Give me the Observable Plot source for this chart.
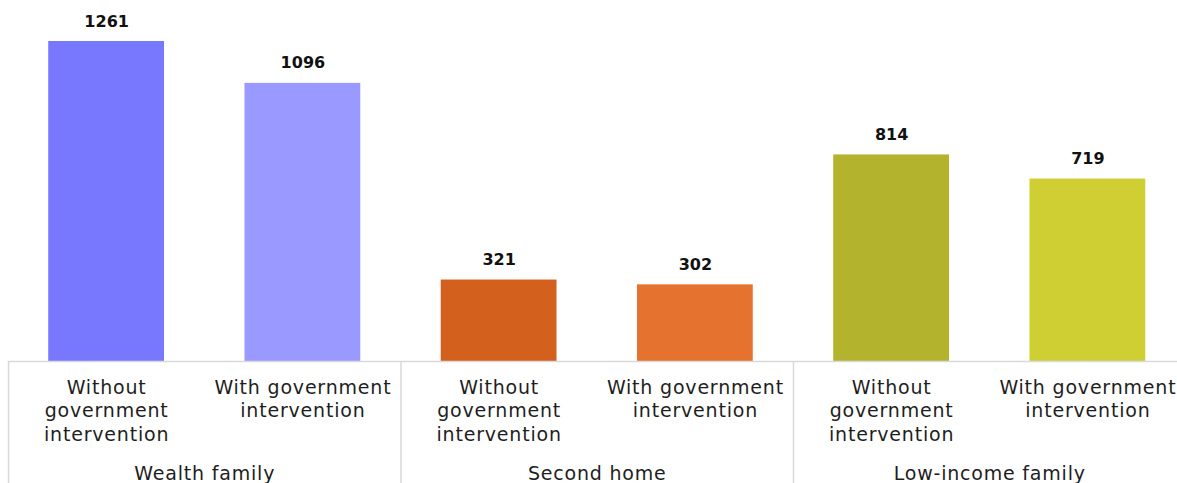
<!DOCTYPE html>
<html>
<head>
<meta charset="utf-8">
<script src="https://cdn.jsdelivr.net/npm/d3@7"></script>
<script src="https://cdn.jsdelivr.net/npm/@observablehq/plot@0.6"></script>
<style>
  html, body { margin: 0; padding: 0; background: #fff; overflow: hidden; }
  #chart svg { display: block; }
  #chart svg g.cat text, #chart svg g.grp text { letter-spacing: 0.8px; }
</style>
</head>
<body>
<div id="chart"></div>
<script>
const groups = ["Wealth family", "Second home", "Low-income family"];
const scenarios = ["Without\ngovernment\nintervention", "With government\nintervention"];
const values = [1261, 1096, 321, 302, 814, 719];
const colors = ["#7878FF", "#9999FF", "#D4601D", "#E5722F", "#B3B32E", "#CFCF34"];

const data = values.map((v, i) => ({
  i,
  group: groups[Math.floor(i / 2)],
  scenario: scenarios[i % 2],
  value: v,
  color: colors[i]
}));
const groupData = groups.map((g, k) => ({group: g, center: 2 * k + 0.5, left: 2 * k - 0.5}));

const font = "'DejaVu Sans', sans-serif";

const chart = Plot.plot({
  width: 1177,
  height: 483,
  marginTop: 41,
  marginBottom: 122,
  marginLeft: 0,
  marginRight: 0,
  style: {fontFamily: font, background: "#fff", overflow: "visible"},
  x: {type: "linear", domain: [-0.5, 5.5], range: [8, 1185.5], axis: null},
  y: {axis: null},
  marks: [
    Plot.rectY(data, {x1: d => d.i - 0.295, x2: d => d.i + 0.295, y: "value", fill: "color"}),
    Plot.text(data, {x: "i", y: "value", text: d => String(d.value), dy: -20, fontWeight: "bold", fontSize: 16, fill: "#111"}),
    Plot.ruleY([0], {x1: -0.5, x2: 5.5, stroke: "#d9d9d9", strokeWidth: 1.5}),
    Plot.ruleX(groupData, {x: "left", y1: 0, y2: 0, insetBottom: -122, stroke: "#d9d9d9", strokeWidth: 1.5, clip: false}),
    Plot.text(data, {x: "i", y: 0, text: "scenario", dy: 15, lineAnchor: "top", lineHeight: 1.26, fontSize: 19, fill: "#1e1e1e", className: "cat"}),
    Plot.text(groupData, {x: "center", y: 0, text: "group", dy: 112, fontSize: 19, fill: "#1e1e1e", className: "grp"})
  ]
});
document.getElementById("chart").append(chart);
</script>
</body>
</html>
